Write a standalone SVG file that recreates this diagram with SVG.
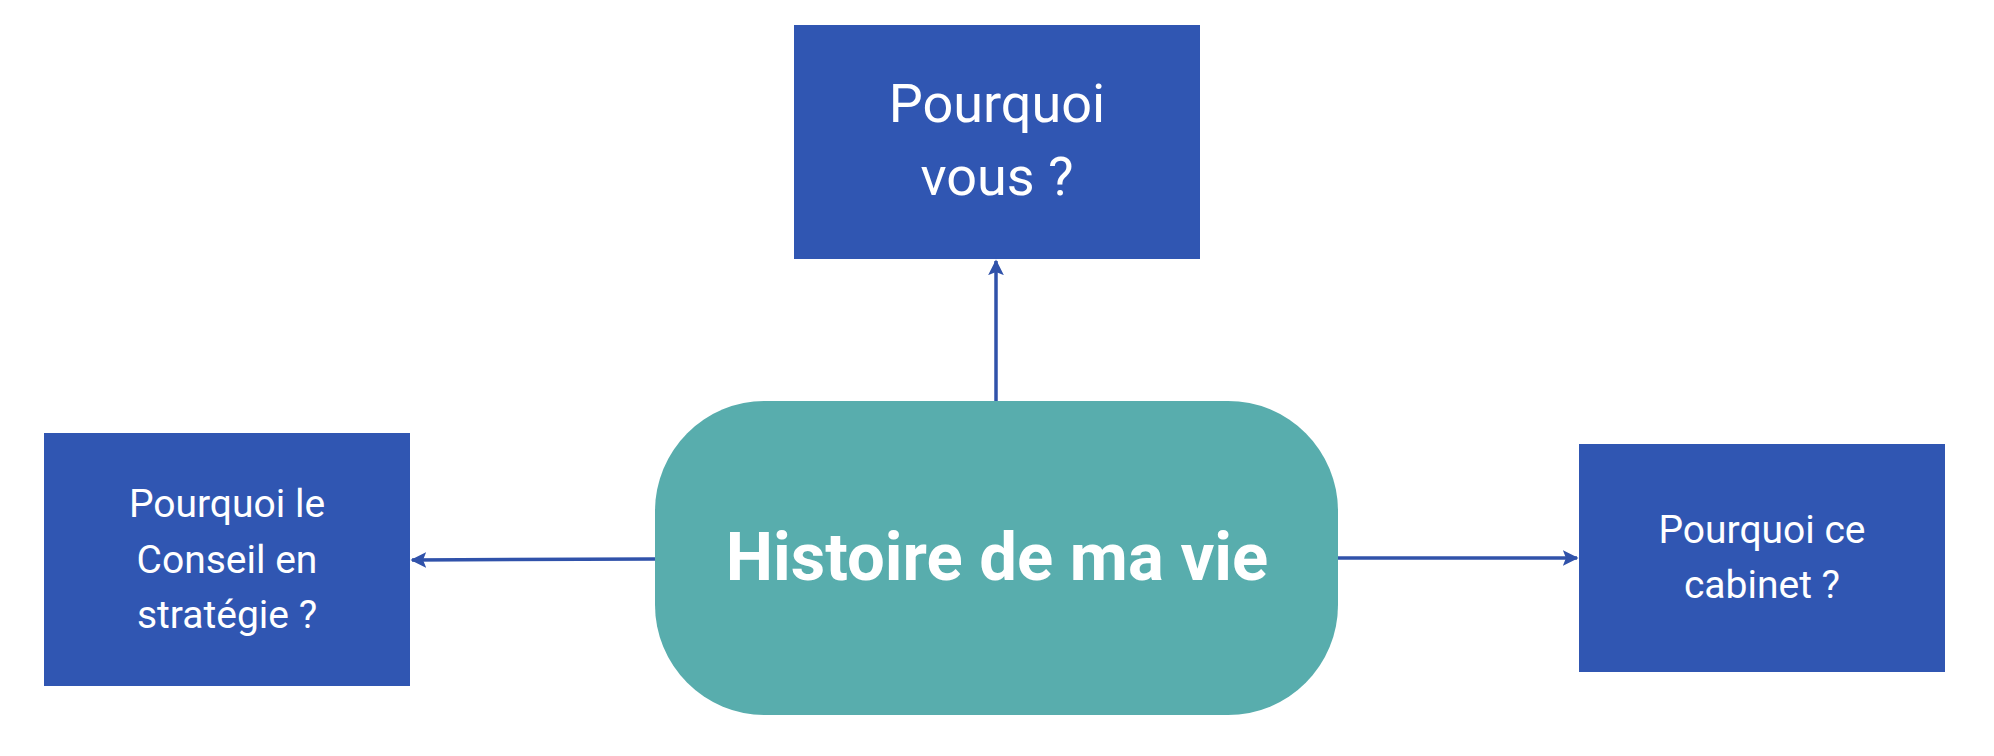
<svg xmlns="http://www.w3.org/2000/svg" width="1994" height="756" viewBox="0 0 1994 756">
<style>
.box{fill:#3056b2}
.center{fill:#58adad}
.lbl{fill:#ffffff;font-family:Roboto,"Liberation Sans",sans-serif;text-anchor:middle}
.conn{stroke:#3052aa;stroke-width:3.5;fill:none}
</style>
<defs>
<marker id="arr" viewBox="0 0 10 10" refX="9" refY="5" markerWidth="4.5" markerHeight="4.5" orient="auto" markerUnits="strokeWidth">
<path d="M0,0 L10,5 L0,10 L2,5 Z" fill="#3052aa"/>
</marker>
</defs>
<rect width="1994" height="756" fill="#ffffff"/>
<g id="connectors">
<line class="conn" x1="996" y1="401" x2="996" y2="261" marker-end="url(#arr)"/>
<line class="conn" x1="655" y1="559" x2="412" y2="560" marker-end="url(#arr)"/>
<line class="conn" x1="1338" y1="558" x2="1577" y2="558" marker-end="url(#arr)"/>
</g>
<g id="node-center">
<rect class="center" x="655" y="401" width="683" height="314" rx="110" ry="110"/>
<text class="lbl" x="997" y="580" font-size="67" font-weight="bold">Histoire de ma vie</text>
</g>
<g id="node-top">
<rect class="box" x="794" y="25" width="406" height="234"/>
<text class="lbl" x="997" y="122" font-size="54">Pourquoi</text>
<text class="lbl" x="997" y="195" font-size="54">vous ?</text>
</g>
<g id="node-left">
<rect class="box" x="44" y="433" width="366" height="253"/>
<text class="lbl" x="227" y="517" font-size="39">Pourquoi le</text>
<text class="lbl" x="227" y="573" font-size="39">Conseil en</text>
<text class="lbl" x="227" y="628" font-size="39">stratégie ?</text>
</g>
<g id="node-right">
<rect class="box" x="1579" y="444" width="366" height="228"/>
<text class="lbl" x="1762" y="543" font-size="39">Pourquoi ce</text>
<text class="lbl" x="1762" y="598" font-size="39">cabinet ?</text>
</g>
</svg>
